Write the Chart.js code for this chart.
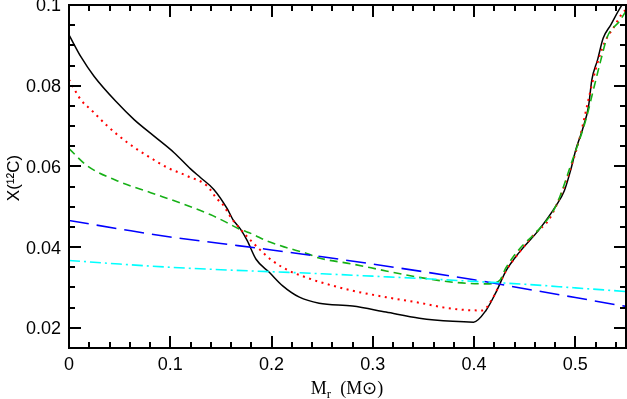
<!DOCTYPE html>
<html>
<head>
<meta charset="utf-8">
<script src="https://cdn.jsdelivr.net/npm/chart.js@4"></script>
<style>
  html, body { margin: 0; padding: 0; background: #fff; }
  #wrap { width: 627px; height: 399px; }
</style>
</head>
<body>
<div id="wrap"><canvas id="carbonChart"></canvas></div>
<script>
/* =========================
DATA
========================= */
const xTicks = [0, 0.1, 0.2, 0.3, 0.4, 0.5];
const xTickLabels = ['0', '0.1', '0.2', '0.3', '0.4', '0.5'];
const yTicks = [0.02, 0.04, 0.06, 0.08, 0.1];
const yTickLabels = ['0.02', '0.04', '0.06', '0.08', '0.1'];

const blackX = [0, 0.0117, 0.0249, 0.0479, 0.0643, 0.084, 0.1038, 0.120, 0.130, 0.143, 0.1565, 0.1617, 0.1695, 0.176, 0.1847, 0.198, 0.211, 0.2275, 0.247, 0.280, 0.313, 0.346, 0.379, 0.3995, 0.4117, 0.4216, 0.4315, 0.4446, 0.4644, 0.4808, 0.489, 0.4956, 0.5005, 0.507, 0.513, 0.5163, 0.5219, 0.5275, 0.535, 0.545, 0.55];
const blackY = [0.0926, 0.0872, 0.0823, 0.0757, 0.0716, 0.0675, 0.0634, 0.0594, 0.0572, 0.0543, 0.0494, 0.0469, 0.0444, 0.0416, 0.0370, 0.0337, 0.0304, 0.0276, 0.0261, 0.0254, 0.0239, 0.0224, 0.0216, 0.0214, 0.0243, 0.0288, 0.0341, 0.0387, 0.0444, 0.0502, 0.0539, 0.0593, 0.0642, 0.0691, 0.0749, 0.0815, 0.0864, 0.0918, 0.0951, 0.0996, 0.1012];

const redX = [0, 0.0117, 0.0215, 0.038, 0.0577, 0.0775, 0.0972, 0.117, 0.1367, 0.1453, 0.153, 0.1584, 0.1663, 0.188, 0.201, 0.2176, 0.234, 0.247, 0.280, 0.313, 0.346, 0.379, 0.4083, 0.418, 0.4315, 0.4446, 0.461, 0.4742, 0.489, 0.5039, 0.5137, 0.520, 0.5285, 0.5383, 0.5465, 0.55];
const redY = [0.0815, 0.0765, 0.0741, 0.0700, 0.0659, 0.0626, 0.0597, 0.0576, 0.0551, 0.0522, 0.0502, 0.0479, 0.0453, 0.0395, 0.0366, 0.0341, 0.0325, 0.0314, 0.0292, 0.0276, 0.0262, 0.0247, 0.0243, 0.0272, 0.0341, 0.0387, 0.0436, 0.0469, 0.0551, 0.0667, 0.0774, 0.0840, 0.0905, 0.0946, 0.0980, 0.0988];

const greenX = [0, 0.0183, 0.0479, 0.0807, 0.1137, 0.140, 0.155, 0.168, 0.1814, 0.1946, 0.2144, 0.234, 0.247, 0.280, 0.313, 0.346, 0.379, 0.4117, 0.425, 0.4315, 0.4446, 0.464, 0.4808, 0.4973, 0.5104, 0.5186, 0.5252, 0.5317, 0.5433, 0.55];
const greenY = [0.0644, 0.0601, 0.0564, 0.0535, 0.0506, 0.0480, 0.0462, 0.0445, 0.0432, 0.0416, 0.0399, 0.0385, 0.0373, 0.0358, 0.0341, 0.0325, 0.0313, 0.0309, 0.0317, 0.0349, 0.0395, 0.0444, 0.0502, 0.0617, 0.0716, 0.0798, 0.0864, 0.0922, 0.0959, 0.0985];

const flatX = [0, 0.05, 0.1, 0.15, 0.2, 0.25, 0.3, 0.35, 0.4, 0.45, 0.5, 0.55];
const blueY = [0.0466, 0.0445, 0.0425, 0.0409, 0.0393, 0.0376, 0.0358, 0.0339, 0.0319, 0.0297, 0.0275, 0.0253];
const cyanY = [0.0367, 0.0358, 0.0350, 0.0344, 0.0339, 0.0334, 0.0328, 0.0322, 0.0315, 0.0308, 0.0299, 0.0290];

const toPoints = (xs, ys) => xs.map((x, i) => ({ x: x, y: ys[i] }));

/* =========================
FRAME: inward ticks on all 4 sides + axis titles
========================= */
const framePlugin = {
    id: 'frame',
    afterDraw(chart) {
        const c = chart.ctx;
        const area = chart.chartArea;
        const xs = chart.scales.x;
        const ys = chart.scales.y;
        const L = Math.round(area.left), R = Math.round(area.right);
        const T = Math.round(area.top), B = Math.round(area.bottom);
        c.save();
        c.setLineDash([]);
        c.globalAlpha = 1;
        c.fillStyle = '#000000';

        // x: minor every 0.02, major every 0.1
        for (let i = 0; i <= 27; i++) {
            const len = (i % 5 === 0) ? 12 : 6;
            const px = Math.round(xs.getPixelForValue(i * 0.02));
            c.fillRect(px - 1, B - len, 2, len);
            c.fillRect(px - 1, T, 2, len);
        }
        // y: minor every 0.005, major every 0.02
        for (let j = 3; j <= 20; j++) {
            const len = (j % 4 === 0) ? 12 : 6;
            const py = Math.round(ys.getPixelForValue(j * 0.005));
            c.fillRect(L, py - 1, len, 2);
            c.fillRect(R - len, py - 1, len, 2);
        }

        // frame, 2px
        c.fillRect(L - 1, T - 1, R - L + 2, 2);
        c.fillRect(L - 1, B - 1, R - L + 2, 2);
        c.fillRect(L - 1, T - 1, 2, B - T + 2);
        c.fillRect(R - 1, T - 1, 2, B - T + 2);

        // y title: X(12C)
        c.save();
        c.translate(19, 178);
        c.rotate(-Math.PI / 2);
        c.textAlign = 'center';
        c.textBaseline = 'alphabetic';
        c.font = '17px "Liberation Sans"';
        c.fillText('X(\u00B9\u00B2C)', 0, 0);
        c.restore();

        // x title: M_r (M_sun)
        const base = 394;
        const big = '18px "Liberation Serif"';
        const small = '13px "Liberation Serif"';
        c.font = big;
        const wM = c.measureText('M').width;
        const wRest = c.measureText('  (M\u2299)').width;
        c.font = small;
        const wr = c.measureText('r').width;
        const x0 = 347 - (wM + wr + wRest) / 2;
        c.textAlign = 'left';
        c.textBaseline = 'alphabetic';
        c.font = big;
        c.fillText('M', x0, base);
        c.font = small;
        c.fillText('r', x0 + wM, base + 4);
        c.font = big;
        c.fillText('  (M\u2299)', x0 + wM + wr, base);
        c.restore();
    }
};

/* =========================
CHART
========================= */
const baseLine = { showLine: true, pointRadius: 0, fill: false, cubicInterpolationMode: 'monotone', borderWidth: 1.6 };

const chartCtx = document.getElementById('carbonChart').getContext('2d');
new Chart(chartCtx, {
    type: 'scatter',
    data: {
        datasets: [
            { ...baseLine, label: 'cyan', data: toPoints(flatX, cyanY), borderColor: '#00ffff', borderDash: [11, 4, 2, 4] },
            { ...baseLine, label: 'blue', data: toPoints(flatX, blueY), borderColor: '#0000ff', borderDash: [20, 8] },
            { ...baseLine, label: 'green', data: toPoints(greenX, greenY), borderColor: '#17b017', borderDash: [8, 5] },
            { ...baseLine, label: 'red', data: toPoints(redX, redY), borderColor: '#ff0000', borderDash: [2, 4.5], borderWidth: 2 },
            { ...baseLine, label: 'black', data: toPoints(blackX, blackY), borderColor: '#000000', borderWidth: 1.5 }
        ]
    },
    options: {
        responsive: true,
        maintainAspectRatio: false,
        animation: false,
        layout: { padding: { top: 5, right: 1, left: 0, bottom: 0 } },
        plugins: {
            legend: { display: false },
            tooltip: { enabled: false }
        },
        scales: {
            x: {
                type: 'linear',
                min: 0,
                max: 0.55,
                grid: { display: false, drawTicks: false },
                border: { display: false },
                afterFit: scale => { scale.height = 51; scale.paddingLeft = 0; scale.paddingRight = 0; },
                afterBuildTicks: scale => { scale.ticks = xTicks.map(v => ({ value: v })); },
                ticks: {
                    padding: 6,
                    maxRotation: 0,
                    autoSkip: false,
                    color: '#000',
                    font: { family: '"Liberation Sans"', size: 18 },
                    callback: (val, i) => xTickLabels[i]
                }
            },
            y: {
                type: 'linear',
                min: 0.015,
                max: 0.1,
                grid: { display: false, drawTicks: false },
                border: { display: false },
                afterFit: scale => { scale.width = 69; scale.paddingTop = 0; scale.paddingBottom = 0; },
                afterBuildTicks: scale => { scale.ticks = yTicks.map(v => ({ value: v })); },
                ticks: {
                    padding: 8,
                    labelOffset: 1.5,
                    autoSkip: false,
                    color: '#000',
                    font: { family: '"Liberation Sans"', size: 18 },
                    callback: (val, i) => yTickLabels[i]
                }
            }
        }
    },
    plugins: [framePlugin]
});
</script>
</body>
</html>
